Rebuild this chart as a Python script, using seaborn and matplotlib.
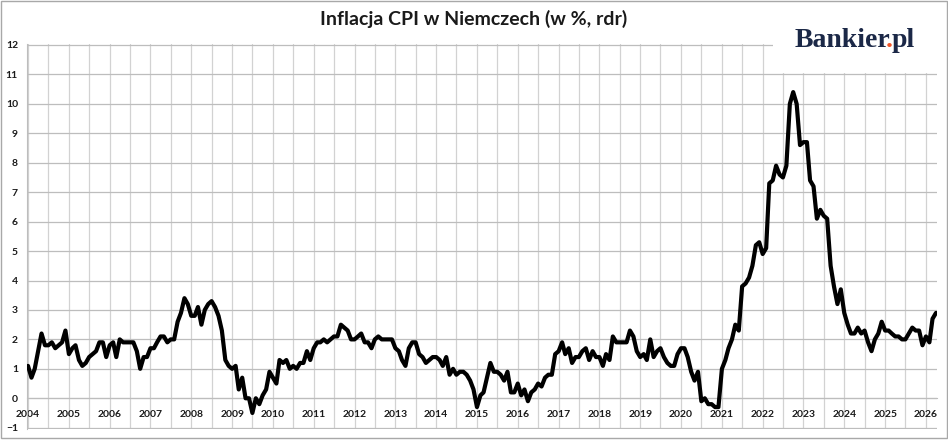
import matplotlib
matplotlib.use('Agg')
import matplotlib.dates as mdates
import matplotlib.pyplot as plt
import numpy as np
import pandas as pd
import seaborn as sns
from matplotlib.patches import Rectangle

# CPI y/y in Germany, monthly, Jan 2004 - Apr 2026
y2004 = [1.1, 0.7, 1.0, 1.6, 2.2, 1.8, 1.8, 1.9, 1.7, 1.8, 1.9, 2.3]
y2005 = [1.5, 1.7, 1.8, 1.3, 1.1, 1.2, 1.4, 1.5, 1.6, 1.9, 1.9, 1.4]
y2006 = [1.8, 1.9, 1.4, 2.0, 1.9, 1.9, 1.9, 1.9, 1.6, 1.0, 1.4, 1.4]
y2007 = [1.7, 1.7, 1.9, 2.1, 2.1, 1.9, 2.0, 2.0, 2.6, 2.9, 3.4, 3.2]
y2008 = [2.8, 2.8, 3.1, 2.5, 3.0, 3.2, 3.3, 3.1, 2.8, 2.3, 1.3, 1.1]
y2009 = [1.0, 1.1, 0.3, 0.7, 0.0, 0.0, -0.5, 0.0, -0.2, 0.1, 0.3, 0.9]
y2010 = [0.7, 0.5, 1.3, 1.2, 1.3, 1.0, 1.1, 1.0, 1.2, 1.2, 1.6, 1.3]
y2011 = [1.7, 1.9, 1.9, 2.0, 1.9, 2.0, 2.1, 2.1, 2.5, 2.4, 2.3, 2.0]
y2012 = [2.0, 2.1, 2.2, 1.9, 1.9, 1.7, 2.0, 2.1, 2.0, 2.0, 2.0, 2.0]
y2013 = [1.7, 1.6, 1.3, 1.1, 1.7, 1.9, 1.9, 1.5, 1.4, 1.2, 1.3, 1.4]
y2014 = [1.4, 1.3, 1.1, 1.4, 0.8, 1.0, 0.8, 0.9, 0.9, 0.8, 0.6, 0.3]
y2015 = [-0.3, 0.1, 0.2, 0.7, 1.2, 0.9, 0.9, 0.8, 0.6, 0.9, 0.2, 0.2]
y2016 = [0.5, 0.1, 0.3, -0.1, 0.2, 0.3, 0.5, 0.4, 0.7, 0.8, 0.8, 1.5]
y2017 = [1.6, 1.9, 1.5, 1.7, 1.2, 1.4, 1.4, 1.6, 1.7, 1.3, 1.6, 1.4]
y2018 = [1.4, 1.1, 1.5, 1.3, 2.1, 1.9, 1.9, 1.9, 1.9, 2.3, 2.1, 1.6]
y2019 = [1.4, 1.5, 1.3, 2.0, 1.4, 1.6, 1.7, 1.4, 1.2, 1.1, 1.1, 1.5]
y2020 = [1.7, 1.7, 1.4, 0.9, 0.6, 0.9, -0.1, 0.0, -0.2, -0.2, -0.3, -0.3]
y2021 = [1.0, 1.3, 1.7, 2.0, 2.5, 2.3, 3.8, 3.9, 4.1, 4.5, 5.2, 5.3]
y2022 = [4.9, 5.1, 7.3, 7.4, 7.9, 7.6, 7.5, 7.9, 10.0, 10.4, 10.0, 8.6]
y2023 = [8.7, 8.7, 7.4, 7.2, 6.1, 6.4, 6.2, 6.1, 4.5, 3.8, 3.2, 3.7]
y2024 = [2.9, 2.5, 2.2, 2.2, 2.4, 2.2, 2.3, 1.9, 1.6, 2.0, 2.2, 2.6]
y2025 = [2.3, 2.3, 2.2, 2.1, 2.1, 2.0, 2.0, 2.2, 2.4, 2.3, 2.3, 1.8]
y2026 = [2.1, 1.9, 2.7, 2.9]

y_ticks = list(range(-1, 13))
title = 'Inflacja CPI w Niemczech (w %, rdr)'

cpi = (y2004 + y2005 + y2006 + y2007 + y2008 + y2009 + y2010 + y2011 + y2012 + y2013
       + y2014 + y2015 + y2016 + y2017 + y2018 + y2019 + y2020 + y2021 + y2022 + y2023
       + y2024 + y2025 + y2026)
dates = pd.date_range('2004-01-01', periods=len(cpi), freq='MS')
df = pd.DataFrame({'date': dates, 'cpi': cpi})

sns.set_style('white')
plt.rcParams['font.family'] = ['Lato', 'DejaVu Sans']
plt.rcParams['font.weight'] = 'bold'

W, H = 948, 440
fig = plt.figure(figsize=(W / 100, H / 100), dpi=100)
ax = fig.add_axes([27 / W, 1 - 428.6 / H, (937 - 27) / W, (428.6 - 44.1) / H])

sns.lineplot(data=df, x='date', y='cpi', color='black', linewidth=3.0,
             solid_joinstyle='round', solid_capstyle='round', ax=ax, zorder=3)

ax.set_ylim(-1.03, 12.03)
ax.set_xlim(pd.Timestamp('2003-12-23'), pd.Timestamp('2026-04-10'))
ax.set_yticks(y_ticks)
ax.xaxis.set_major_locator(mdates.YearLocator(1))
ax.xaxis.set_minor_locator(mdates.MonthLocator(bymonth=7))
ax.xaxis.set_major_formatter(mdates.DateFormatter('%Y'))

ax.yaxis.grid(True, color='#bdbdbd', linewidth=0.9)
ax.xaxis.grid(True, which='both', color='#d2d2d2', linewidth=0.9)
ax.set_axisbelow(True)

ax.spines['top'].set_visible(False)
ax.spines['right'].set_visible(False)
ax.spines['bottom'].set_position(('data', 0))
ax.spines['bottom'].set_color('#bdbdbd')
ax.spines['left'].set_color('#bdbdbd')

ax.tick_params(axis='y', length=3, pad=3.5, color='#bdbdbd', labelsize=7.5, labelcolor='#1a1a1a')
ax.tick_params(axis='x', which='both', length=0, pad=8.5, labelsize=7.5, labelcolor='#1a1a1a')
ax.set_xlabel('')
ax.set_ylabel('')

fig.text(0.5, 1 - 19 / H, title, ha='center', va='center', fontsize=14,
         fontweight='bold', color='#1a1a1a')

# white box with the logo over the top-right corner of the grid
fig.add_artist(Rectangle((773 / W, 1 - 73.5 / H), (942 - 773) / W, (73.5 - 2) / H,
                         transform=fig.transFigure, facecolor='white', edgecolor='none', zorder=5))
navy = '#1b2847'
logo_font = dict(family=['Liberation Serif'], fontweight='bold', fontsize=20,
                 ha='left', va='baseline', zorder=6)
renderer = fig.canvas.get_renderer()
x_px, base_y = 795.0, 1 - 47 / H
for part, col, trim in [('Bankier', navy, 5.0), ('.', '#f0562a', 1.5), ('pl', navy, 0)]:
    t = fig.text(x_px / W, base_y, part, color=col, **logo_font)
    x_px += t.get_window_extent(renderer).width - trim

# outer frame
fig.add_artist(Rectangle((1 / W, 2 / H), (W - 2.5) / W, (H - 3.5) / H, transform=fig.transFigure,
                         fill=False, edgecolor='#a8a8a8', linewidth=1.0, zorder=7))

fig.savefig('out.png', dpi=100)
